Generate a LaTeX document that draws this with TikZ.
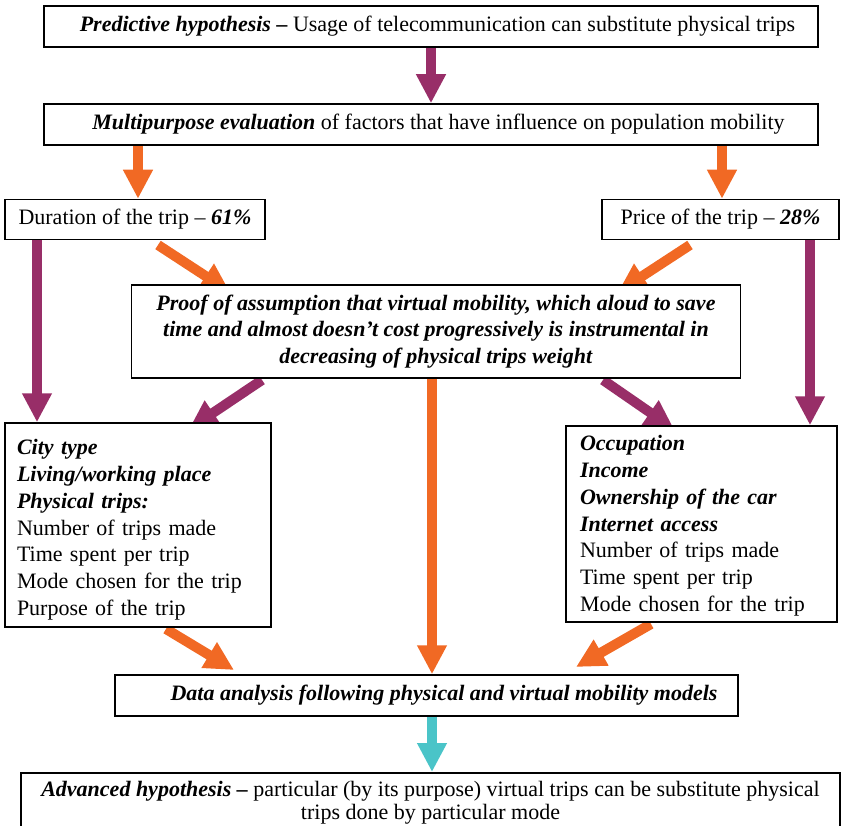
\documentclass[tikz,border=0pt]{standalone}
\usepackage{fontspec}
\setmainfont{Liberation Serif}
\usetikzlibrary{arrows.meta,backgrounds}
\definecolor{plum}{RGB}{152,46,104}
\definecolor{tangerine}{RGB}{241,105,36}
\definecolor{aqua}{RGB}{74,196,200}
\newcommand{\strongit}[1]{\textbf{\textit{#1}}}

\begin{document}
\begin{tikzpicture}[x=1pt,y=-1pt,
  box/.style={draw=black, line width=1.5pt, fill=white, inner sep=0pt,
    font=\fontsize{22}{26.8}\selectfont, align=center},
  listbox/.style={box, align=left},
  flowarrow/.style={line width=10pt, -{Triangle[width=28pt,length=29pt]}},
  purplearrow/.style={flowarrow, draw=plum, fill=plum},
  orangearrow/.style={flowarrow, draw=tangerine, fill=tangerine},
  aquaarrow/.style={flowarrow, draw=aqua, fill=aqua}]
\clip (0,0) rectangle (841,826);

% boxes
\node[box, minimum width=774pt, minimum height=41pt] (top) at (431,26.5)
  {\hspace*{13pt}\strongit{Predictive hypothesis –} Usage of telecommunication can substitute physical trips};
\node[box, minimum width=774pt, minimum height=41pt] (multi) at (431,124.5)
  {\hspace*{15pt}\strongit{Multipurpose evaluation} of factors that have influence on population mobility};
\node[box, minimum width=260pt, minimum height=40pt] (dur) at (135,219.5)
  {Duration of the trip – \strongit{61\%}};
\node[box, minimum width=237pt, minimum height=40pt] (price) at (720.5,219.5)
  {Price of the trip – \strongit{28\%}};
\node[box, minimum width=609pt, minimum height=93pt] (proof) at (436,331.5)
  {\strongit{Proof of assumption that virtual mobility, which aloud to save}\\
   \strongit{time and almost doesn’t cost progressively is instrumental in}\\
   \strongit{decreasing of physical trips weight}};
\node[listbox, minimum width=266pt, minimum height=204pt, text width=242pt] (lbox) at (138,525)
  {\rule{0pt}{25pt}\strongit{City type}\\
   \strongit{Living/working place}\\
   \strongit{Physical trips:}\\
   Number of trips made\\
   Time spent per trip\\
   Mode chosen for the trip\\
   Purpose of the trip};
\node[listbox, minimum width=271pt, minimum height=196pt, text width=243pt] (rbox) at (701.5,524)
  {\rule{0pt}{19pt}\strongit{Occupation}\\
   \strongit{Income}\\
   \strongit{Ownership of the car}\\
   \strongit{Internet access}\\
   Number of trips made\\
   Time spent per trip\\
   Mode chosen for the trip};
\node[box, minimum width=623pt, minimum height=41pt] (data) at (426.5,695.5)
  {\hspace*{35pt}\strongit{Data analysis following physical and virtual mobility models}};
\node[box, minimum width=819pt, minimum height=60pt, anchor=north,
  font=\fontsize{22}{23}\selectfont] (adv) at (430.5,772)
  {\strongit{Advanced hypothesis –} particular (by its purpose) virtual trips can be substitute physical\\
   trips done by particular mode};

% guide positions for the vertical connectors
\coordinate (xl) at (138,0);
\coordinate (xr) at (722,0);
\coordinate (xpl) at (37,0);
\coordinate (xpr) at (810,0);
\coordinate (xmid) at (432,0);
% free ends of the slanted connectors
\coordinate (d1s) at (158,245);  \coordinate (d1e) at (230,292);
\coordinate (d2s) at (690,245);  \coordinate (d2e) at (618,292);
\coordinate (d3s) at (262,380);  \coordinate (d3e) at (189,429);
\coordinate (d4s) at (603,380);  \coordinate (d4e) at (674,429);
\coordinate (d5s) at (166,629);  \coordinate (d5e) at (234,670);
\coordinate (d6s) at (651,624);  \coordinate (d6e) at (576,667);

\begin{scope}[on background layer]
  \draw[purplearrow] (top.south) -- (multi.north);
  \draw[orangearrow] (multi.south -| xl) -- (dur.north -| xl);
  \draw[orangearrow] (multi.south -| xr) -- (price.north -| xr);
  \draw[purplearrow] (dur.south -| xpl) -- (lbox.north -| xpl);
  \draw[purplearrow] (price.south -| xpr) -- (rbox.north -| xpr);
  \draw[orangearrow] (d1s) -- (d1e);
  \draw[orangearrow] (d2s) -- (d2e);
  \draw[purplearrow] (d3s) -- (d3e);
  \draw[purplearrow] (d4s) -- (d4e);
  \draw[orangearrow] (proof.south -| xmid) -- (data.north -| xmid);
  \draw[orangearrow] (d5s) -- (d5e);
  \draw[orangearrow] (d6s) -- (d6e);
  \draw[aquaarrow] (data.south -| xmid) -- (adv.north -| xmid);
\end{scope}
\end{tikzpicture}
\end{document}
